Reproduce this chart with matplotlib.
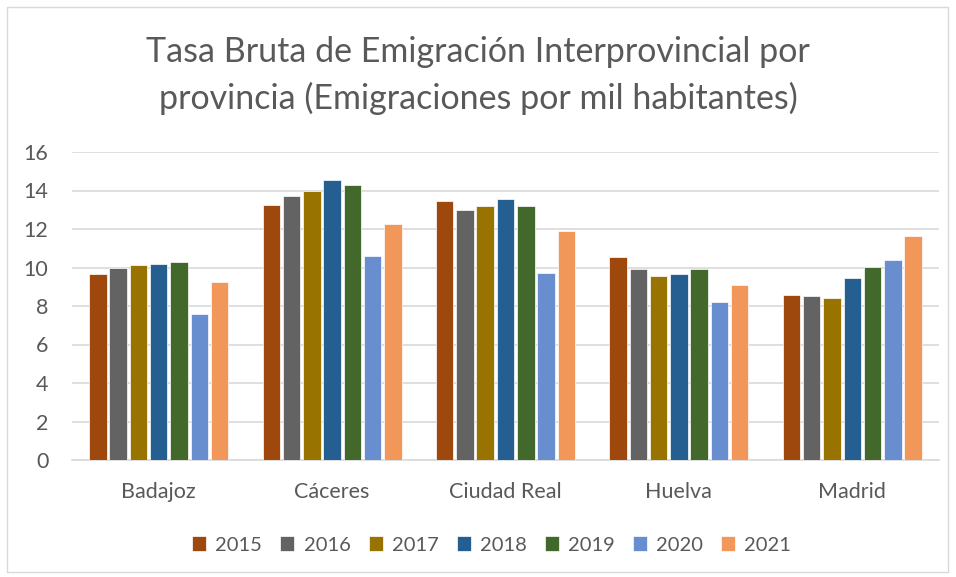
import matplotlib.pyplot as plt
import numpy as np
from matplotlib.patches import Rectangle

provinces = ['Badajoz', 'Cáceres', 'Ciudad Real', 'Huelva', 'Madrid']
years = ['2015', '2016', '2017', '2018', '2019', '2020', '2021']
colors = ['#9E480E', '#636363', '#997300', '#255E91', '#43682B', '#698ED0', '#F1975A']

v2015 = [9.65, 13.27, 13.43, 10.55, 8.57]
v2016 = [9.98, 13.72, 13.00, 9.90, 8.54]
v2017 = [10.14, 14.00, 13.21, 9.58, 8.43]
v2018 = [10.19, 14.52, 13.57, 9.65, 9.46]
v2019 = [10.31, 14.31, 13.17, 9.93, 10.03]
v2020 = [7.57, 10.61, 9.72, 8.19, 10.40]
v2021 = [9.23, 12.24, 11.90, 9.11, 11.65]
series = [v2015, v2016, v2017, v2018, v2019, v2020, v2021]

txt = '#595959'
plt.rcParams['font.family'] = ['Lato', 'DejaVu Sans']

fig = plt.figure(figsize=(9.56, 5.77), dpi=100)
fig.patches.append(Rectangle((7 / 956, 5 / 577), 941 / 956, 565 / 577, transform=fig.transFigure,
                             fill=False, edgecolor='#D9D9D9', linewidth=1))
ax = fig.add_axes([72 / 956, 117 / 577, 867 / 956, 308 / 577])

x = np.arange(len(provinces))
pitch = 0.117
for i, (yr, vals) in enumerate(zip(years, series)):
    ax.bar(x + (i - 3) * pitch, vals, width=pitch * 0.86, color=colors[i], label=yr,
           edgecolor='white', linewidth=0.5, zorder=3)

ax.set_xlim(-0.5, 4.5)
ax.set_ylim(0, 16)
ax.set_yticks(range(0, 17, 2))
ax.yaxis.grid(True, color='#D9D9D9', linewidth=1.2, zorder=0)
for s in ['top', 'right', 'left']:
    ax.spines[s].set_visible(False)
ax.spines['bottom'].set_color('#D9D9D9')
ax.spines['bottom'].set_linewidth(1.2)
ax.tick_params(axis='both', length=0, colors=txt, labelsize=15.5)
ax.tick_params(axis='y', pad=17)
ax.tick_params(axis='x', pad=16)
ax.set_xticks(x)
ax.set_xticklabels(provinces)

fig.text(0.5, 0.869, 'Tasa Bruta de Emigración Interprovincial por\nprovincia (Emigraciones por mil habitantes)',
         ha='center', va='center', fontsize=24.5, color=txt, linespacing=1.5)

ax.legend(loc='center', bbox_to_anchor=(0.484, (32 - 117) / 308), ncol=7, frameon=False,
          fontsize=14.5, labelcolor=txt, handlelength=0.7, handleheight=0.7,
          handletextpad=0.45, columnspacing=0.9)

fig.savefig('out.png', dpi=100)
